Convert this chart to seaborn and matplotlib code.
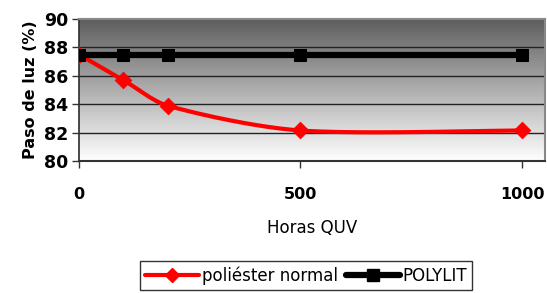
import numpy as np
import pandas as pd
import matplotlib
matplotlib.use("Agg")
import matplotlib.pyplot as plt
from matplotlib.lines import Line2D
import seaborn as sns

# data
horas = [0, 100, 200, 500, 1000]
poliester_normal = [87.5, 85.7, 83.9, 82.15, 82.15]
polylit = [87.5, 87.5, 87.5, 87.5, 87.5]
y_ticks = [80, 82, 84, 86, 88, 90]
x_ticks = [0, 500, 1000]


def smooth_curve(xs, ys, n=40):
    """Smoothed line through the points (cubic Bezier, Catmull-Rom tangents,
    control points clamped to a third of each segment)."""
    xs = np.asarray(xs, float)
    ys = np.asarray(ys, float)
    px = np.concatenate([[xs[0]], xs, [xs[-1]]])
    py = np.concatenate([[ys[0]], ys, [ys[-1]]])
    out_x, out_y = [], []
    for i in range(1, len(px) - 2):
        p0 = np.array([px[i], py[i]])
        p3 = np.array([px[i + 1], py[i + 1]])
        seg = (p3[0] - p0[0]) / 3
        d1 = (np.array([px[i + 1], py[i + 1]]) - np.array([px[i - 1], py[i - 1]])) / 6
        d2 = (np.array([px[i + 2], py[i + 2]]) - np.array([px[i], py[i]])) / 6
        if d1[0] > seg:
            d1 = d1 * seg / d1[0]
        if d2[0] > seg:
            d2 = d2 * seg / d2[0]
        c1 = p0 + d1
        c2 = p3 - d2
        t = np.linspace(0, 1, n)[:, None]
        b = ((1 - t) ** 3) * p0 + 3 * ((1 - t) ** 2) * t * c1 + 3 * (1 - t) * t ** 2 * c2 + t ** 3 * p3
        out_x.extend(b[:, 0])
        out_y.extend(b[:, 1])
    return np.array(out_x), np.array(out_y)


sns.set_theme(style="white")
plt.rcParams["font.family"] = ["DejaVu Sans"]
plt.rcParams["text.color"] = "black"
plt.rcParams["axes.labelcolor"] = "black"
plt.rcParams["xtick.color"] = "black"
plt.rcParams["ytick.color"] = "black"

fig = plt.figure(figsize=(5.47, 2.93), dpi=100)
ax = fig.add_axes([0.1444, 0.4505, 0.852, 0.4845])

# gray gradient background
grad = np.linspace(0, 1, 256)[:, None]
ax.imshow(grad, extent=[0, 1, 0, 1], transform=ax.transAxes, aspect="auto",
          cmap=matplotlib.colors.LinearSegmentedColormap.from_list("g", ["#5e5e5e", "#ffffff"]),
          zorder=0, origin="upper")

for yv in y_ticks[1:-1]:
    ax.axhline(yv, color="#222222", lw=1.0, zorder=1)

sx, sy = smooth_curve(horas, poliester_normal)
df_s = pd.DataFrame({"x": sx, "y": sy})
sns.lineplot(data=df_s, x="x", y="y", ax=ax, color="#ff0000", lw=3, sort=False, zorder=3)
sns.scatterplot(x=horas, y=poliester_normal, ax=ax, marker="D", s=70, color="#ff0000",
                edgecolor="#ff0000", zorder=4)

df_p = pd.DataFrame({"x": horas, "y": polylit})
sns.lineplot(data=df_p, x="x", y="y", ax=ax, color="black", lw=4.5, marker="s",
             markersize=9, markeredgecolor="black", zorder=5)

ax.set_xlim(0, 1052)
ax.set_ylim(80, 90)
ax.set_xticks(x_ticks)
ax.set_yticks(y_ticks)
ax.tick_params(axis="y", direction="out", length=5, width=1, color="#333333",
               labelcolor="black", labelsize=12.5, pad=3, left=True)
ax.tick_params(axis="x", direction="out", length=5, width=1, color="#333333",
               labelcolor="black", labelsize=11.5, pad=14, bottom=True)
for lab in ax.get_yticklabels():
    lab.set_fontweight("bold")
for lab in ax.get_xticklabels():
    lab.set_fontweight("semibold")

for side in ["top", "right"]:
    ax.spines[side].set_color("#888888")
    ax.spines[side].set_linewidth(1.5)
ax.spines["left"].set_color("#333333")
ax.spines["bottom"].set_color("#333333")
ax.spines["bottom"].set_linewidth(1.5)

ax.set_xlabel("Horas QUV", fontsize=12, labelpad=12, color="black")
ax.set_ylabel("Paso de luz (%)", fontsize=11.5, fontweight="bold", labelpad=4, color="black")

handles = [
    Line2D([], [], color="#ff0000", lw=3, marker="D", markersize=7),
    Line2D([], [], color="black", lw=4.5, marker="s", markersize=8),
]
leg = fig.legend(handles, ["poliéster normal", "POLYLIT"], loc="upper center",
                 bbox_to_anchor=(0.56, 0.108), ncol=2, frameon=True, fancybox=False,
                 fontsize=12, handlelength=3.2, handletextpad=0.2, columnspacing=0.5,
                 borderpad=0.3, borderaxespad=0)
leg.get_frame().set_edgecolor("black")
leg.get_frame().set_linewidth(1)
for txt in leg.get_texts():
    txt.set_color("black")

fig.savefig("out.png", dpi=100)
